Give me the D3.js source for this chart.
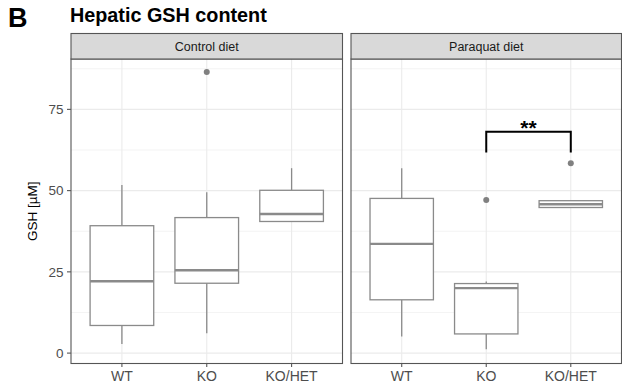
<!DOCTYPE html>
<html>
<head>
<meta charset="utf-8">
<script src="https://cdn.jsdelivr.net/npm/d3@7"></script>
<style>
  html, body { margin: 0; padding: 0; background: #fff; }
  svg { display: block; font-family: "Liberation Sans", Arial, sans-serif; }
</style>
</head>
<body>
<svg id="chart" width="622" height="385"></svg>
<script>
// Genotype groups and diet facets
const groups = ["WT", "KO", "KO/HET"];
const facets = ["Control diet", "Paraquat diet"];

// Box statistics per facet, in group order
const controlLow    = [2.8, 6.1, 40.5];
const controlQ1     = [8.5, 21.5, 40.5];
const controlMedian = [22.1, 25.5, 42.8];
const controlQ3     = [39.2, 41.7, 50.1];
const controlHigh   = [51.7, 49.5, 56.9];
const controlOutliers = [[], [86.5], []];

const paraquatLow    = [5.1, 1.2, 44.8];
const paraquatQ1     = [16.4, 5.9, 44.8];
const paraquatMedian = [33.6, 20.0, 45.8];
const paraquatQ3     = [47.6, 21.4, 46.9];
const paraquatHigh   = [56.9, 22.0, 46.9];
const paraquatOutliers = [[], [47.1], [58.4]];

const yTicks = [0, 25, 50, 75];
const yMinor = [12.5, 37.5, 62.5, 87.5];

// Significance bracket (Paraquat diet: KO vs KO/HET)
const bracketFrom = "KO", bracketTo = "KO/HET";
const bracketTop = 68.1, bracketFoot = 61.7, bracketLabel = "**";

const panels = [
  { name: facets[0], low: controlLow, q1: controlQ1, med: controlMedian, q3: controlQ3, high: controlHigh, out: controlOutliers },
  { name: facets[1], low: paraquatLow, q1: paraquatQ1, med: paraquatMedian, q3: paraquatQ3, high: paraquatHigh, out: paraquatOutliers, bracket: true }
];

const svg = d3.select("#chart");
const panelTop = 59, panelBottom = 363.5, stripTop = 33.5;
const panelX = [[71, 342.5], [351, 621.5]];
const boxColor = "#8a8a8a", gridColor = "#ebebeb";

const y = d3.scaleLinear().domain([-3.2, 90.5]).range([panelBottom, panelTop]);

// Title and panel letter
svg.append("text").attr("x", 8).attr("y", 26.5).attr("font-size", 27).attr("font-weight", "bold").text("B");
svg.append("text").attr("x", 70).attr("y", 22).attr("font-size", 19.8).attr("font-weight", "bold").text("Hepatic GSH content");

// Y axis title
svg.append("text")
  .attr("transform", `translate(37,${(panelTop + panelBottom) / 2}) rotate(-90)`)
  .attr("text-anchor", "middle").attr("font-size", 13.5).attr("fill", "#000")
  .text("GSH [µM]");

panels.forEach((p, i) => {
  const [x0, x1] = panelX[i];
  // discrete positions with 0.6-unit expansion on each side
  const x = d3.scalePoint().domain(groups).range([x0, x1]).padding(0.6);
  const unit = x.step();
  const cx = g => x(g);
  const bw = 0.75 * unit;
  const g = svg.append("g");

  // panel background and grid
  g.append("rect").attr("x", x0).attr("y", panelTop).attr("width", x1 - x0).attr("height", panelBottom - panelTop).attr("fill", "#fff");
  g.selectAll(".minor").data(yMinor).join("line")
    .attr("x1", x0).attr("x2", x1).attr("y1", d => y(d)).attr("y2", d => y(d))
    .attr("stroke", gridColor).attr("stroke-width", 0.6);
  g.selectAll(".major").data(yTicks).join("line")
    .attr("x1", x0).attr("x2", x1).attr("y1", d => y(d)).attr("y2", d => y(d))
    .attr("stroke", gridColor).attr("stroke-width", 1.1);
  g.selectAll(".vmajor").data(groups).join("line")
    .attr("x1", d => cx(d)).attr("x2", d => cx(d)).attr("y1", panelTop).attr("y2", panelBottom)
    .attr("stroke", gridColor).attr("stroke-width", 1.1);

  // boxplots
  groups.forEach((grp, k) => {
    const c = cx(grp);
    const bg = g.append("g").attr("stroke", boxColor).attr("fill", "none");
    bg.append("line").attr("x1", c).attr("x2", c).attr("y1", y(p.high[k])).attr("y2", y(p.q3[k])).attr("stroke-width", 1.3);
    bg.append("line").attr("x1", c).attr("x2", c).attr("y1", y(p.q1[k])).attr("y2", y(p.low[k])).attr("stroke-width", 1.3);
    bg.append("rect").attr("x", c - bw / 2).attr("width", bw)
      .attr("y", y(p.q3[k])).attr("height", y(p.q1[k]) - y(p.q3[k]))
      .attr("fill", "#fff").attr("stroke-width", 1.3);
    bg.append("line").attr("x1", c - bw / 2).attr("x2", c + bw / 2)
      .attr("y1", y(p.med[k])).attr("y2", y(p.med[k])).attr("stroke-width", 2.4);
    g.selectAll(null).data(p.out[k]).join("circle")
      .attr("cx", c).attr("cy", d => y(d)).attr("r", 3).attr("fill", "#808080");
  });

  // panel border
  g.append("rect").attr("x", x0).attr("y", panelTop).attr("width", x1 - x0).attr("height", panelBottom - panelTop)
    .attr("fill", "none").attr("stroke", "#555").attr("stroke-width", 1.1);

  // strip
  g.append("rect").attr("x", x0).attr("y", stripTop).attr("width", x1 - x0).attr("height", panelTop - stripTop)
    .attr("fill", "#d9d9d9").attr("stroke", "#555").attr("stroke-width", 1.1);
  g.append("text").attr("x", (x0 + x1) / 2).attr("y", (stripTop + panelTop) / 2 + 4.5)
    .attr("text-anchor", "middle").attr("font-size", 12.5).attr("fill", "#1a1a1a").text(p.name);

  // x axis ticks and labels
  const xa = g.append("g");
  groups.forEach(grp => {
    xa.append("line").attr("x1", cx(grp)).attr("x2", cx(grp)).attr("y1", panelBottom).attr("y2", panelBottom + 3.5)
      .attr("stroke", "#555").attr("stroke-width", 1.1);
    xa.append("text").attr("x", cx(grp)).attr("y", panelBottom + 17.5).attr("text-anchor", "middle")
      .attr("font-size", 14).attr("fill", "#4d4d4d").text(grp);
  });

  if (p.bracket) {
    const a = cx(bracketFrom), b = cx(bracketTo);
    g.append("path")
      .attr("d", `M${a},${y(bracketFoot)}V${y(bracketTop)}H${b}V${y(bracketFoot)}`)
      .attr("fill", "none").attr("stroke", "#000").attr("stroke-width", 2);
    g.append("text").attr("x", (a + b) / 2).attr("y", y(bracketTop) + 3)
      .attr("text-anchor", "middle").attr("font-size", 21).attr("font-weight", "bold").text(bracketLabel);
  }
});

// y axis (left panel only)
const ya = svg.append("g");
yTicks.forEach(t => {
  ya.append("line").attr("x1", 67).attr("x2", 71).attr("y1", y(t)).attr("y2", y(t)).attr("stroke", "#555").attr("stroke-width", 1.1);
  ya.append("text").attr("x", 63.5).attr("y", y(t) + 4.8).attr("text-anchor", "end")
    .attr("font-size", 13.5).attr("fill", "#4d4d4d").text(t);
});
</script>
</body>
</html>
